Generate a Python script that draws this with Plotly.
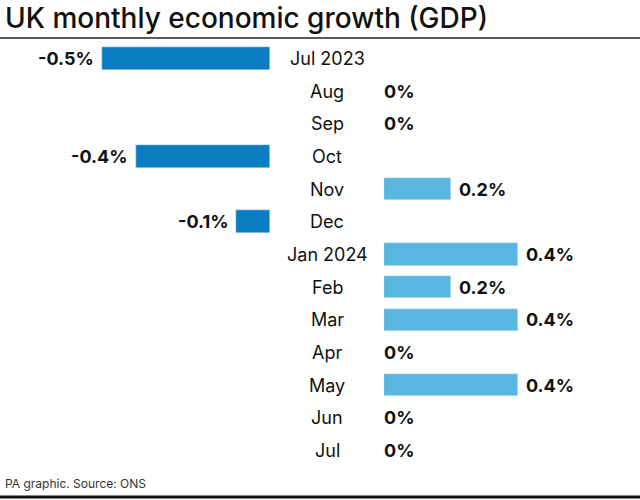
import plotly.graph_objects as go

months = ["Jul 2023", "Aug", "Sep", "Oct", "Nov", "Dec", "Jan 2024", "Feb", "Mar", "Apr", "May", "Jun", "Jul"]
growth = [-0.5, 0.0, 0.0, -0.4, 0.2, -0.1, 0.4, 0.2, 0.4, 0.0, 0.4, 0.0, 0.0]
value_labels = ["-0.5%", "0%", "0%", "-0.4%", "0.2%", "-0.1%", "0.4%", "0.2%", "0.4%", "0%", "0.4%", "0%", "0%"]

NEG = "#0a7dc0"
POS = "#58b6e0"
FONT = "Inter, Roboto, Liberation Sans, sans-serif"

idx = list(range(len(months)))
neg_x = [v if v < 0 else None for v in growth]
pos_x = [v if v > 0 else None for v in growth]

fig = go.Figure()
fig.add_trace(go.Bar(x=neg_x, y=idx, orientation="h", marker_color=NEG, width=0.69,
                     xaxis="x", yaxis="y", hoverinfo="skip"))
fig.add_trace(go.Bar(x=pos_x, y=idx, orientation="h", marker_color=POS, width=0.69,
                     xaxis="x2", yaxis="y", hoverinfo="skip"))

ann = []
for i, (m, v, lab) in enumerate(zip(months, growth, value_labels)):
    ann.append(dict(x=327 / 640, xref="paper", y=i, yref="y", text=m, showarrow=False,
                    xanchor="center", yanchor="middle", font=dict(size=18, color="#111", family=FONT)))
    if v < 0:
        ann.append(dict(x=v, xref="x", y=i, yref="y", text="<b>%s</b>" % lab, showarrow=False,
                        xanchor="right", yanchor="middle", xshift=-6,
                        font=dict(size=18, color="#111", family=FONT)))
    else:
        ann.append(dict(x=v, xref="x2", y=i, yref="y", text="<b>%s</b>" % lab, showarrow=False,
                        xanchor="left", yanchor="middle", xshift=6 if v > 0 else -2,
                        font=dict(size=18, color="#111", family=FONT)))

ann.append(dict(x=3 / 640, xref="paper", y=1 - 18 / 500, yref="paper", text="UK monthly economic growth (GDP)",
                showarrow=False, xanchor="left", yanchor="middle",
                font=dict(size=28, color="#111", family=FONT, weight=500)))
ann.append(dict(x=3 / 640, xref="paper", y=1 - 483 / 500, yref="paper", text="PA graphic. Source: ONS",
                showarrow=False, xanchor="left", yanchor="middle",
                font=dict(size=12, color="#333", family=FONT)))

shapes = [
    dict(type="line", xref="paper", yref="paper", x0=0, x1=1, y0=1 - 38 / 500, y1=1 - 38 / 500,
         line=dict(color="#222", width=1.5)),
    dict(type="line", xref="paper", yref="paper", x0=0, x1=1, y0=1 - 497 / 500, y1=1 - 497 / 500,
         line=dict(color="#111", width=3)),
]

ppu = 336.0
fig.update_layout(
    width=640, height=500, margin=dict(l=0, r=0, t=0, b=0),
    paper_bgcolor="white", plot_bgcolor="white", showlegend=False,
    xaxis=dict(domain=[0, 270 / 640], range=[-270 / ppu, 0], visible=False, fixedrange=True),
    xaxis2=dict(domain=[384 / 640, 1], range=[0, 256 / ppu], visible=False, fixedrange=True),
    yaxis=dict(domain=[(500 - 466.94) / 500, (500 - 42.06) / 500], range=[12.5, -0.5], visible=False),
    annotations=ann, shapes=shapes, bargap=0,
)

fig.write_html("out.html", config={"displayModeBar": False},
               post_script="document.body.style.margin='0';document.body.style.padding='0';document.body.style.overflow='hidden';")
